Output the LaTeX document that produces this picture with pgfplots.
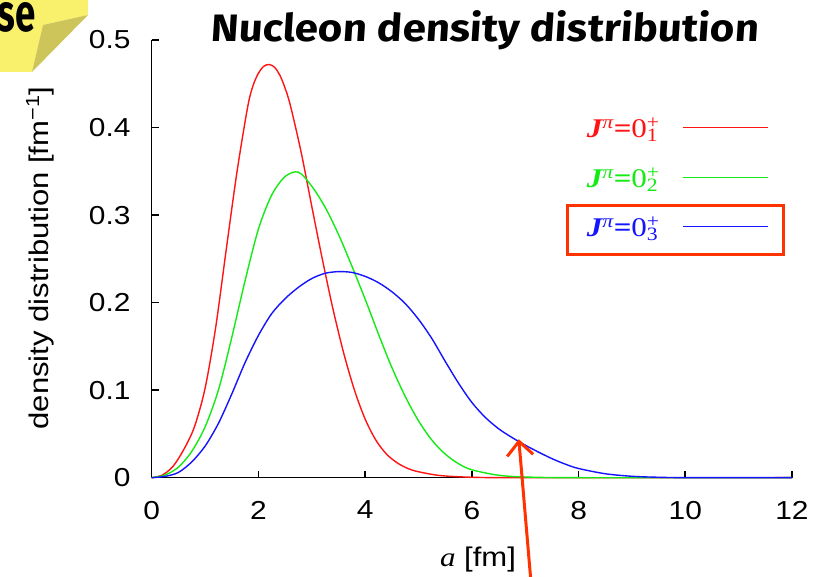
\documentclass[border=0pt]{standalone}
\usepackage{graphicx}
\usepackage{pgfplots}
\pgfplotsset{compat=1.18}
\usepackage{pgfplotstable}
\usepackage{fontspec}
\setmainfont{Liberation Sans}[FakeStretch=1.15]
\newfontfamily\serif{Liberation Serif}[FakeStretch=1.15]
\newfontfamily\titlefont{Fira Sans}[FakeSlant=0.06]
\newfontfamily\tagfont{Fira Sans}
\usetikzlibrary{arrows.meta}

\definecolor{tagyellow}{RGB}{249,240,108}
\definecolor{tagfold}{RGB}{206,197,90}
\definecolor{annot}{RGB}{255,51,0}
\definecolor{cred}{RGB}{255,20,20}
\definecolor{cgreen}{RGB}{20,235,20}
\definecolor{cblue}{RGB}{20,20,255}

\newcommand\legtxt[1]{{\serif\bfseries\itshape J}\textsuperscript{\serif\itshape π}{\serif\bfseries =}{\serif 0}\rlap{\textsuperscript{\serif +}}\textsubscript{\serif #1}}

\pgfplotstableread{
x y
0 0
0.2 0.003
0.4 0.013
0.6 0.032
0.8 0.058
1.0 0.102
1.2 0.172
1.4 0.262
1.6 0.350
1.8 0.424
1.9 0.448
2.0 0.462
2.1 0.470
2.2 0.472
2.3 0.469
2.4 0.460
2.5 0.445
2.6 0.425
2.8 0.372
3.0 0.310
3.2 0.249
3.4 0.192
3.6 0.142
3.8 0.100
4.0 0.067
4.2 0.043
4.4 0.027
4.6 0.017
4.8 0.0105
5.0 0.0068
5.4 0.0025
6.0 0.0005
7 0
12 0
}\redtab

\pgfplotstableread{
x y
0 0
0.25 0.003
0.5 0.012
0.75 0.030
1.0 0.058
1.25 0.100
1.5 0.160
1.75 0.225
2.0 0.284
2.25 0.323
2.5 0.344
2.75 0.349
3.0 0.333
3.25 0.309
3.5 0.278
3.75 0.242
4.0 0.204
4.25 0.164
4.5 0.126
4.75 0.093
5.0 0.065
5.25 0.043
5.5 0.027
5.75 0.016
6.0 0.009
6.5 0.0028
7 0.0008
8 0
12 0
}\greentab

\pgfplotstableread{
x y
0 0
0.25 0.0015
0.5 0.006
0.75 0.018
1.0 0.036
1.25 0.062
1.5 0.0955
1.75 0.1315
2.0 0.1625
2.25 0.1875
2.5 0.2045
2.75 0.2175
3.0 0.2275
3.25 0.2335
3.5 0.2354
3.75 0.2345
4.0 0.2300
4.25 0.2228
4.5 0.2125
4.75 0.1990
5.0 0.1810
5.25 0.1590
5.5 0.1330
5.75 0.1080
6.0 0.0860
6.25 0.0690
6.5 0.0560
6.75 0.0460
7.0 0.0372
7.25 0.0292
7.5 0.0218
7.75 0.0155
8.0 0.0105
8.5 0.0045
9.0 0.0016
9.5 0.0005
10 0.0001
12 0
}\bluetab

\begin{document}
\begin{tikzpicture}[x=1pt,y=1pt]
\begin{scope}[shift={(-151.7,-99.3)}]
\fill[white] (0,0) rectangle (828,577);
% yellow tag
\fill[tagyellow] (0,577) -- (88,577) -- (88,562) -- (43,552) -- (32,505) -- (0,505) -- cycle;
\fill[tagfold] (43,552) -- (88,562) -- (32,505) -- cycle;
\node[anchor=base east, inner sep=0pt] at (36,545) {\resizebox{38pt}{29pt}{\tagfont\bfseries se}};
% title
\node[anchor=base west, inner sep=0pt] at (210,535) {\resizebox{548pt}{31pt}{\titlefont\bfseries Nucleon density distribution}};
\end{scope}

\begin{axis}[
  scale only axis, width=640.3pt, height=437.7pt,
  xmin=0, xmax=12, ymin=0, ymax=0.5,
  axis lines=left,
  axis line style={-, line width=1.6pt, black},
  xtick={0,2,4,6,8,10,12},
  ytick={0,0.1,0.2,0.3,0.4,0.5},
  tick align=inside,
  major tick length=7pt,
  tick style={black, line width=1.6pt},
  /pgf/number format/assume math mode=true,
  ticklabel style={font=\fontsize{26}{26}\selectfont},
  yticklabel style={inner sep=0pt, anchor=east, xshift=-21pt},
  xticklabel style={inner sep=0pt, anchor=north, yshift=-23pt},
  yticklabel={\pgfmathprintnumber[fixed,precision=1]{\tick}},
  xlabel={{\serif\itshape a} [fm]},
  xlabel style={at={(rel axis cs:0.5096,0)}, anchor=base, yshift=-89pt, inner sep=0pt, font=\fontsize{27}{27}\selectfont},
  ylabel={density distribution [fm\textsuperscript{−1}]},
  ylabel style={at={(rel axis cs:-0.1745,0.502)}, anchor=center, inner sep=0pt, font=\fontsize{27}{27}\selectfont},
  clip=false,
]
\addplot[cred, line width=1.4pt, smooth] table[x=x,y=y] {\redtab};
\addplot[cgreen, line width=1.4pt, smooth] table[x=x,y=y] {\greentab};
\addplot[cblue, line width=1.4pt, smooth] table[x=x,y=y] {\bluetab};
% key: labels and sample lines
\node[anchor=base east, inner sep=0pt, text=cred, font=\fontsize{27}{27}\selectfont] at (axis cs:9.499,0.3887) {\legtxt{1}};
\node[anchor=base east, inner sep=0pt, text=cgreen, font=\fontsize{27}{27}\selectfont] at (axis cs:9.499,0.3320) {\legtxt{2}};
\node[anchor=base east, inner sep=0pt, text=cblue, font=\fontsize{27}{27}\selectfont] at (axis cs:9.499,0.2754) {\legtxt{3}};
\draw[cred, line width=1.2pt] (axis cs:9.949,0.3997) -- (axis cs:11.544,0.3997);
\draw[cgreen, line width=1.2pt] (axis cs:9.949,0.3433) -- (axis cs:11.544,0.3433);
\draw[cblue, line width=1.2pt] (axis cs:9.949,0.2869) -- (axis cs:11.544,0.2869);
% annotation box around third key entry
\draw[annot, line width=3pt] (axis cs:7.80,0.2545) rectangle (axis cs:11.84,0.3105);
% annotation arrow
\draw[annot, line width=3pt, -{Straight Barb[length=14pt,width=26pt]}] (axis cs:7.10,-0.1135) -- (axis cs:6.88,0.044);
\end{axis}
\pgfresetboundingbox
\path[use as bounding box] (-151.7,-99.3) rectangle (676.3,477.7);
\end{tikzpicture}
\end{document}
